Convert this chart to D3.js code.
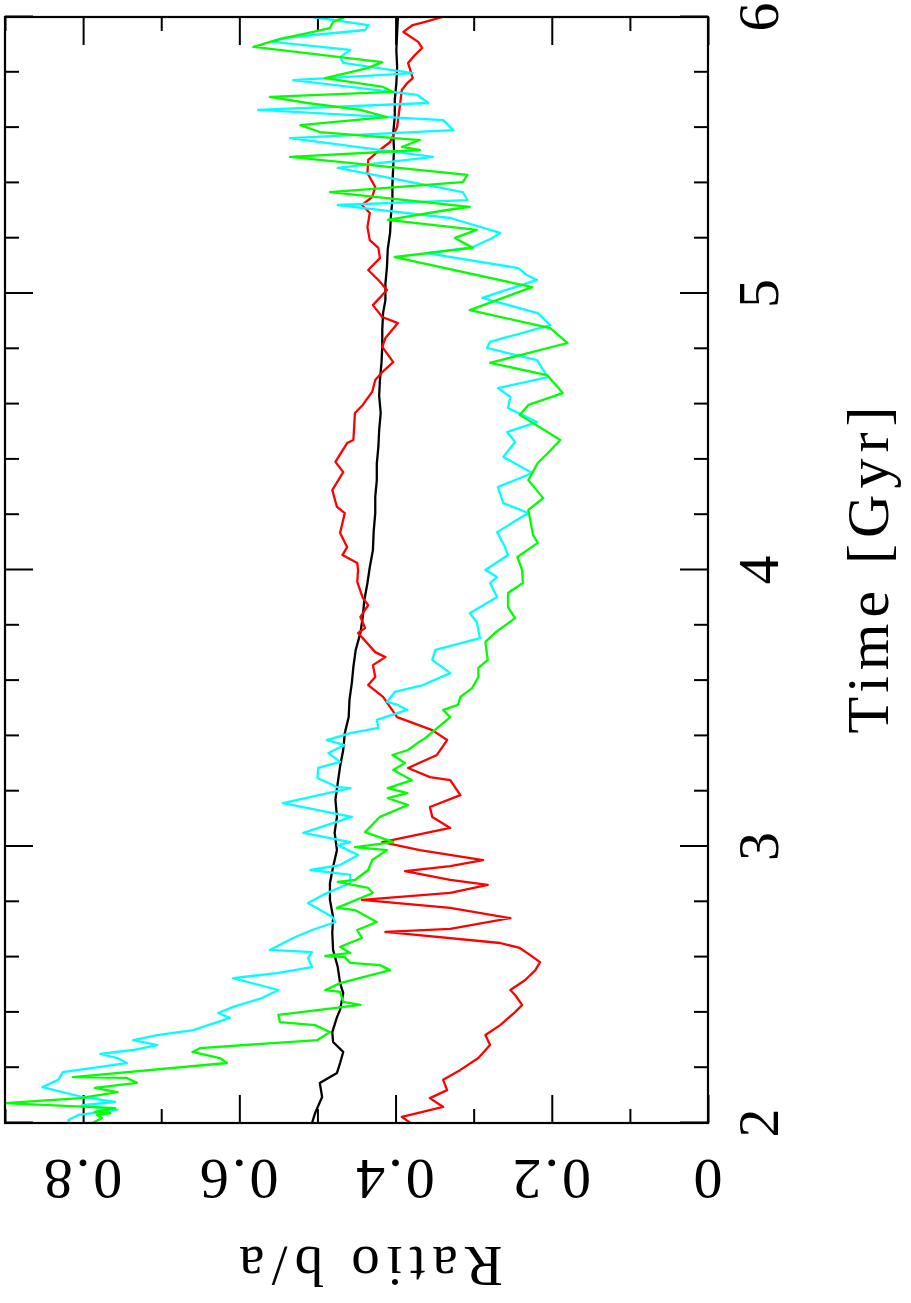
<!DOCTYPE html>
<html>
<head>
<meta charset="utf-8">
<script src="https://cdn.jsdelivr.net/npm/d3@7"></script>
<style>
  body { margin: 0; background: #fff; }
  svg { display: block; }
  text { font-family: "Liberation Serif", "DejaVu Serif", serif; fill: #000; }
</style>
</head>
<body>
<div id="chart"></div>
<script>
// Data: [time (Gyr), ratio b/a]
//=====================================================
var blackCurve = [
  [2.000,0.507],[2.036,0.503],[2.094,0.494],[2.145,0.497],[2.181,0.475],[2.217,0.471],
  [2.257,0.467],[2.293,0.480],[2.329,0.481],[2.383,0.475],[2.409,0.471],[2.470,0.467],
  [2.506,0.471],[2.564,0.474],[2.626,0.480],[2.687,0.481],[2.745,0.480],[2.807,0.484],
  [2.868,0.484],[2.926,0.480],[2.987,0.475],[3.050,0.478],[3.107,0.475],[3.170,0.477],
  [3.230,0.474],[3.290,0.471],[3.349,0.467],[3.410,0.465],[3.468,0.460],[3.530,0.459],
  [3.591,0.456],[3.650,0.454],[3.711,0.451],[3.772,0.445],[3.830,0.442],[3.890,0.440],
  [3.953,0.436],[4.010,0.433],[4.072,0.429],[4.140,0.428],[4.206,0.426],[4.265,0.426],
  [4.325,0.424],[4.385,0.424],[4.445,0.422],[4.505,0.421],[4.568,0.419],[4.630,0.421],
  [4.687,0.420],[4.750,0.418],[4.807,0.417],[4.870,0.417],[4.929,0.416],[4.976,0.413],
  [5.035,0.413],[5.096,0.411],[5.160,0.410],[5.219,0.407],[5.280,0.406],[5.338,0.404],
  [5.400,0.404],[5.457,0.403],[5.520,0.402],[5.580,0.403],[5.640,0.401],[5.700,0.401],
  [5.760,0.399],[5.819,0.398],[5.880,0.399],[5.942,0.398],[6.000,0.397]
];

var redCurve = [
  [2.000,0.381],[2.022,0.392],[2.058,0.339],[2.090,0.356],[2.119,0.334],[2.156,0.339],
  [2.192,0.317],[2.235,0.294],[2.282,0.279],[2.318,0.285],[2.354,0.266],[2.401,0.247],
  [2.427,0.238],[2.463,0.247],[2.481,0.253],[2.517,0.234],[2.553,0.221],[2.582,0.215],
  [2.608,0.228],[2.633,0.241],[2.651,0.266],[2.691,0.413],[2.702,0.330],[2.741,0.253],
  [2.778,0.330],[2.807,0.443],[2.832,0.330],[2.861,0.282],[2.879,0.330],[2.911,0.388],
  [2.929,0.330],[2.951,0.288],[2.987,0.369],[3.016,0.417],[3.067,0.330],[3.107,0.353],
  [3.143,0.356],[3.186,0.317],[3.240,0.330],[3.251,0.356],[3.284,0.384],[3.331,0.347],
  [3.385,0.334],[3.421,0.353],[3.468,0.398],[3.541,0.416],[3.584,0.435],[3.613,0.426],
  [3.656,0.429],[3.685,0.413],[3.703,0.426],[3.772,0.448],[3.790,0.439],[3.830,0.445],
  [3.873,0.435],[3.899,0.442],[3.957,0.449],[4.000,0.448],[4.025,0.449],[4.054,0.468],
  [4.083,0.462],[4.134,0.471],[4.206,0.465],[4.228,0.475],[4.289,0.481],[4.354,0.467],
  [4.391,0.477],[4.459,0.462],[4.470,0.454],[4.568,0.452],[4.597,0.442],[4.644,0.430],
  [4.687,0.426],[4.716,0.417],[4.752,0.403],[4.807,0.417],[4.839,0.413],[4.893,0.397],
  [4.915,0.417],[4.958,0.429],[5.013,0.411],[5.049,0.422],[5.085,0.435],[5.128,0.420],
  [5.165,0.422],[5.193,0.433],[5.240,0.436],[5.291,0.433],[5.320,0.443],[5.349,0.430],
  [5.385,0.426],[5.436,0.436],[5.483,0.435],[5.519,0.420],[5.548,0.407],[5.602,0.398],
  [5.689,0.394],[5.736,0.392],[5.761,0.385],[5.779,0.378],[5.834,0.384],[5.863,0.375],
  [5.888,0.366],[5.910,0.371],[5.946,0.390],[5.971,0.378],[5.982,0.362],[6.000,0.340]
];

var greenCurve = [
  [2.000,0.788],[2.018,0.776],[2.029,0.782],[2.036,0.765],[2.040,0.785],[2.054,0.759],
  [2.072,0.900],[2.090,0.804],[2.112,0.756],[2.127,0.785],[2.145,0.731],[2.163,0.744],
  [2.166,0.813],[2.217,0.616],[2.235,0.625],[2.257,0.660],[2.271,0.650],[2.300,0.500],
  [2.329,0.484],[2.354,0.503],[2.365,0.548],[2.391,0.550],[2.427,0.445],[2.438,0.467],
  [2.474,0.471],[2.481,0.490],[2.506,0.471],[2.553,0.407],[2.571,0.420],[2.579,0.458],
  [2.600,0.465],[2.604,0.490],[2.615,0.458],[2.637,0.471],[2.669,0.443],[2.698,0.449],
  [2.727,0.424],[2.770,0.452],[2.778,0.475],[2.832,0.429],[2.850,0.435],[2.872,0.474],
  [2.879,0.452],[2.915,0.435],[2.951,0.430],[2.987,0.411],[2.998,0.452],[3.016,0.403],
  [3.052,0.439],[3.107,0.420],[3.150,0.384],[3.175,0.410],[3.193,0.385],[3.211,0.410],
  [3.240,0.379],[3.277,0.403],[3.302,0.388],[3.331,0.404],[3.349,0.384],[3.374,0.372],
  [3.392,0.362],[3.414,0.353],[3.468,0.330],[3.494,0.339],[3.512,0.320],[3.541,0.317],
  [3.573,0.302],[3.613,0.294],[3.646,0.294],[3.675,0.282],[3.740,0.285],[3.772,0.273],
  [3.826,0.247],[3.866,0.256],[3.917,0.256],[3.953,0.237],[4.000,0.238],[4.047,0.244],
  [4.098,0.218],[4.127,0.224],[4.217,0.230],[4.260,0.211],[4.325,0.230],[4.387,0.218],
  [4.423,0.205],[4.470,0.189],[4.561,0.241],[4.597,0.230],[4.640,0.186],[4.705,0.206],
  [4.749,0.279],[4.821,0.180],[4.875,0.202],[4.940,0.305],[5.023,0.225],[5.132,0.401],
  [5.165,0.301],[5.201,0.324],[5.230,0.296],[5.266,0.410],[5.302,0.334],[5.313,0.305],
  [5.367,0.484],[5.403,0.314],[5.429,0.308],[5.494,0.535],[5.519,0.369],[5.530,0.392],
  [5.555,0.369],[5.584,0.497],[5.609,0.522],[5.638,0.411],[5.664,0.445],[5.689,0.513],
  [5.711,0.561],[5.729,0.403],[5.747,0.416],[5.779,0.490],[5.815,0.436],[5.837,0.417],
  [5.892,0.582],[5.917,0.552],[5.960,0.484],[5.982,0.480],[6.000,0.465]
];

var cyanCurve = [
  [2.000,0.817],[2.011,0.819],[2.029,0.806],[2.047,0.756],[2.065,0.801],[2.076,0.759],
  [2.094,0.801],[2.130,0.852],[2.156,0.832],[2.184,0.826],[2.203,0.778],[2.217,0.744],
  [2.235,0.756],[2.250,0.778],[2.264,0.736],[2.282,0.705],[2.300,0.736],[2.318,0.705],
  [2.336,0.659],[2.380,0.612],[2.398,0.627],[2.420,0.608],[2.452,0.571],[2.481,0.550],
  [2.524,0.608],[2.542,0.552],[2.564,0.507],[2.597,0.512],[2.618,0.507],[2.626,0.561],
  [2.669,0.531],[2.698,0.507],[2.727,0.477],[2.745,0.481],[2.796,0.512],[2.825,0.493],
  [2.868,0.458],[2.897,0.458],[2.915,0.509],[2.933,0.471],[2.969,0.448],[3.005,0.474],
  [3.016,0.458],[3.049,0.518],[3.107,0.456],[3.157,0.544],[3.211,0.458],[3.215,0.475],
  [3.248,0.500],[3.284,0.499],[3.306,0.471],[3.338,0.486],[3.367,0.465],[3.385,0.488],
  [3.410,0.458],[3.429,0.422],[3.458,0.424],[3.494,0.385],[3.512,0.397],[3.523,0.411],
  [3.559,0.401],[3.584,0.365],[3.627,0.330],[3.675,0.353],[3.711,0.349],[3.754,0.292],
  [3.812,0.296],[3.844,0.305],[3.902,0.270],[3.953,0.279],[3.975,0.270],[4.000,0.285],
  [4.054,0.256],[4.083,0.260],[4.137,0.270],[4.206,0.230],[4.242,0.262],[4.300,0.269],
  [4.351,0.225],[4.409,0.262],[4.463,0.247],[4.499,0.257],[4.535,0.219],[4.586,0.256],
  [4.626,0.253],[4.658,0.269],[4.698,0.205],[4.759,0.219],[4.803,0.283],[4.825,0.279],
  [4.886,0.202],[4.929,0.218],[4.984,0.289],[5.049,0.219],[5.067,0.232],[5.092,0.243],
  [5.146,0.360],[5.168,0.301],[5.201,0.276],[5.219,0.266],[5.273,0.330],[5.320,0.474],
  [5.338,0.308],[5.367,0.314],[5.454,0.474],[5.494,0.352],[5.562,0.535],[5.591,0.326],
  [5.627,0.339],[5.664,0.576],[5.689,0.358],[5.718,0.372],[5.772,0.531],[5.797,0.378],
  [5.834,0.467],[5.855,0.471],[5.881,0.458],[5.910,0.557],[5.924,0.544],[5.953,0.439],
  [5.971,0.435],[6.000,0.506]
];

// Tick values
var timeMajor = [2, 3, 4, 5, 6];
var timeMinor = d3.range(2, 6.001, 0.2).map(function(d){ return +d.toFixed(1); });
var ratioMajor = [0, 0.2, 0.4, 0.6, 0.8];
var ratioMinor = d3.range(0, 0.901, 0.1).map(function(d){ return +d.toFixed(1); });
var ratioLabels = ["0", "0.2", "0.4", "0.6", "0.8"];

// Set up the chart (drawn landscape, then turned a quarter to the left)
//=================================
var svgWidth = 911;
var svgHeight = 1303;
var frame = { left: 5, bottom: 1123 };
var width = 1106;   // time extent
var height = 703;   // ratio extent

var svg = d3.select("#chart")
  .append("svg")
  .attr("width", svgWidth)
  .attr("height", svgHeight);

svg.append("rect")
  .attr("width", svgWidth)
  .attr("height", svgHeight)
  .attr("fill", "#fff");

var chartGroup = svg.append("g")
  .attr("transform", `translate(${frame.left}, ${frame.bottom}) rotate(-90)`);

var xScale = d3.scaleLinear().domain([2, 6]).range([0, width]);
var yScale = d3.scaleLinear().domain([0, 0.9]).range([height, 0]);

// clip the curves to the frame
chartGroup.append("clipPath")
  .attr("id", "plotClip")
  .append("rect")
  .attr("width", width)
  .attr("height", height);

// ticks on all four sides, pointing inward
function tickAxis(axisFn, scale, values, size, transform) {
  var g = chartGroup.append("g")
    .attr("transform", transform)
    .call(axisFn(scale).tickValues(values).tickSize(size).tickFormat(""));
  g.select(".domain").remove();
  g.selectAll("line").attr("stroke", "#000").attr("stroke-width", 2);
  return g;
}
var minorT = timeMinor.filter(function(d){ return timeMajor.indexOf(d) < 0; });
var minorR = ratioMinor.filter(function(d){ return ratioMajor.indexOf(d) < 0; });

tickAxis(d3.axisBottom, xScale, timeMajor, -28, `translate(0, ${height})`);
tickAxis(d3.axisBottom, xScale, minorT, -14, `translate(0, ${height})`);
tickAxis(d3.axisTop, xScale, timeMajor, -28, "translate(0, 0)");
tickAxis(d3.axisTop, xScale, minorT, -14, "translate(0, 0)");
tickAxis(d3.axisLeft, yScale, ratioMajor, -28, "translate(0, 0)");
tickAxis(d3.axisLeft, yScale, minorR, -14, "translate(0, 0)");
tickAxis(d3.axisRight, yScale, ratioMajor, -28, `translate(${width}, 0)`);
tickAxis(d3.axisRight, yScale, minorR, -14, `translate(${width}, 0)`);

// curves
var line = d3.line()
  .x(function(d){ return xScale(d[0]); })
  .y(function(d){ return yScale(d[1]); });

var curves = [
  { data: blackCurve, color: "#000000" },
  { data: redCurve, color: "#ff0000" },
  { data: cyanCurve, color: "#00ffff" },
  { data: greenCurve, color: "#00ff00" }
];

var curveGroup = chartGroup.append("g").attr("clip-path", "url(#plotClip)");
curves.forEach(function(c) {
  curveGroup.append("path")
    .datum(c.data)
    .attr("d", line)
    .attr("fill", "none")
    .attr("stroke", c.color)
    .attr("stroke-width", 2.3)
    .attr("stroke-linejoin", "round");
});

// frame
chartGroup.append("rect")
  .attr("width", width)
  .attr("height", height)
  .attr("fill", "none")
  .attr("stroke", "#000")
  .attr("stroke-width", 2.2);

// tick labels
chartGroup.selectAll(".tlabel")
  .data(timeMajor)
  .enter()
  .append("text")
  .attr("class", "tlabel")
  .attr("x", function(d){ return xScale(d) + 1.5; })
  .attr("y", height + 70)
  .attr("text-anchor", "middle")
  .attr("font-size", "58px")
  .attr("letter-spacing", "3px")
  .text(function(d){ return d; });

chartGroup.selectAll(".rlabel")
  .data(ratioMajor)
  .enter()
  .append("text")
  .attr("class", "rlabel")
  .attr("transform", function(d){ return `translate(-37, ${yScale(d)}) rotate(-90)`; })
  .attr("x", 1.5)
  .attr("text-anchor", "middle")
  .attr("font-size", "58px")
  .attr("letter-spacing", "3px")
  .text(function(d, i){ return ratioLabels[i]; });

// axis titles
chartGroup.append("text")
  .attr("x", width / 2 + 3)
  .attr("y", height + 180)
  .attr("text-anchor", "middle")
  .attr("font-size", "60px")
  .attr("letter-spacing", "6px")
  .text("Time [Gyr]");

chartGroup.append("text")
  .attr("transform", `translate(-124, ${height / 2 + 14}) rotate(-90)`)
  .attr("x", 3)
  .attr("text-anchor", "middle")
  .attr("font-size", "57px")
  .attr("letter-spacing", "7px")
  .text("Ratio b/a");
</script>
</body>
</html>
